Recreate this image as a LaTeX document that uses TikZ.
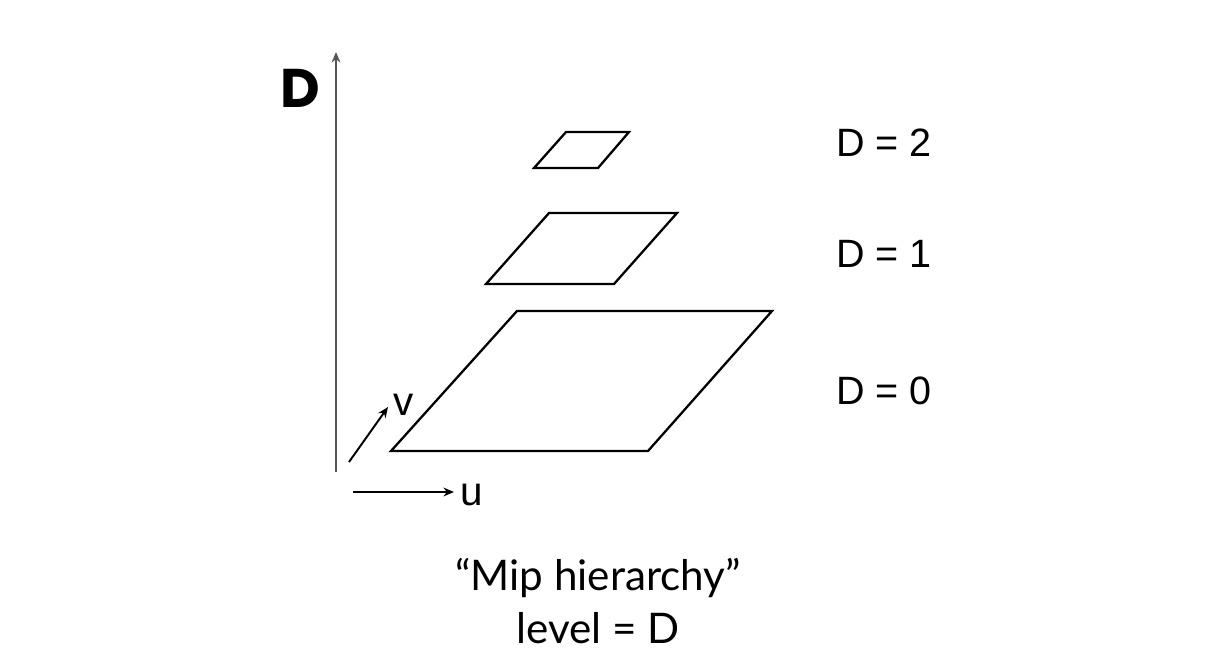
\documentclass[tikz,border=0pt]{standalone}
\usepackage{fontspec}
\setmainfont{Liberation Sans}
\newfontfamily\capfont{Lato}
\newfontfamily\headfont{Poppins}
\usetikzlibrary{arrows.meta,positioning,calc}
\definecolor{Ink}{HTML}{000000}
\definecolor{AxisGray}{HTML}{555555}
\definecolor{White}{HTML}{FFFFFF}

\tikzset{
  level/.style={draw=Ink,line width=1.3pt,line join=miter},
  lvllabel/.style={anchor=west,inner sep=0pt,font=\fontsize{22.5}{26}\selectfont,text=Ink},
  axis/.style={draw=Ink,line width=1.1pt,-{Stealth[length=6pt,width=5pt]}}
}

\begin{document}
\begin{tikzpicture}[x=0.02cm,y=-0.02cm]
  \useasboundingbox[fill=White] (0,0) rectangle (1226,655);

  % vertical D axis
  \coordinate (dbase) at (336,472);
  \coordinate (dtop) at (336,52);
  \draw[axis,draw=AxisGray] (dbase) -- (dtop);
  \node[font=\headfont\bfseries\fontsize{31}{36}\selectfont,text=Ink]
    (dlabel) at (300,88) {D};

  % texture axes
  \coordinate (vfrom) at (349,462);
  \coordinate (vto) at (388,407);
  \draw[axis] (vfrom) -- (vto);
  \node[font=\fontsize{23}{26}\selectfont] (vlabel) at (404,405) {v};
  \coordinate (ufrom) at (353,492);
  \coordinate (uto) at (454,492);
  \draw[axis] (ufrom) -- (uto);
  \node[font=\fontsize{23}{26}\selectfont] (ulabel) at (472,495) {u};

  % mip levels
  \draw[level] (391,451) -- (648,451) -- (772,311) -- (517,311) -- cycle;
  \draw[level] (486,284) -- (614,284) -- (677,213) -- (549,213) -- cycle;
  \draw[level] (534,168) -- (598,168) -- (629,132) -- (566,132) -- cycle;

  \node[lvllabel] (lvltwo) at (836,143) {D = 2};
  \node[lvllabel] (lvlone) at (836,254) {D = 1};
  \node[lvllabel] (lvlzero) at (836,391) {D = 0};

  % caption
  \node[font=\capfont\fontsize{24}{30}\selectfont,align=center,text=Ink]
    (caption) at (598,601) {“Mip hierarchy”\\level = D};
\end{tikzpicture}
\end{document}
